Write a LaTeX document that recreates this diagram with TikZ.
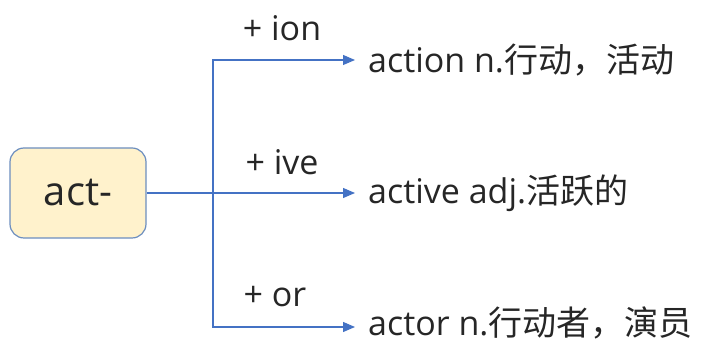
\documentclass[tikz,border=0pt]{standalone}
\usepackage{fontspec}
\setmainfont{Open Sans}
\newfontfamily\cjk{Noto Sans CJK SC}
\usepackage{xcolor}
\usetikzlibrary{arrows.meta}
\definecolor{linkblue}{HTML}{4472C4}
\definecolor{boxfill}{HTML}{FFF2CC}
\definecolor{boxline}{HTML}{6C8EBF}
\definecolor{txt}{HTML}{262626}
\tikzset{
  rootbox/.style={draw=boxline, line width=1.2pt, fill=boxfill, rounded corners=14pt,
    minimum width=136pt, minimum height=90pt, text=txt, font=\fontsize{40}{48}\selectfont},
  leaf/.style={anchor=west, inner xsep=13pt, inner ysep=2pt, text=txt, font=\fontsize{34}{41}\selectfont},
  suffix/.style={text=txt, font=\fontsize{34}{40}\selectfont},
  link/.style={draw=linkblue, line width=1.1pt},
  tip/.style={-{Triangle[length=12pt,width=10pt]}}
}
\begin{document}
\begin{tikzpicture}[x=1pt,y=1pt]
        \useasboundingbox (0,0) rectangle (710,345);
        \node[rootbox] (root) at (78,152) {act-};
        \coordinate (fork) at (213,152);
        %
        \node[leaf] (ion) at (355,285) {action n.{\cjk 行动，活动}};
        \node[leaf] (ive) at (355,152) {active adj.{\cjk 活跃的}};
        \node[leaf, text depth=12pt] (or) at (355,18) {actor n.{\cjk 行动者，演员}};
        %
        \node[suffix] (plusion) at (282,317) {+ ion};
        \node[suffix] (plusive) at (282,183) {+ ive};
        \node[suffix] (plusor) at (275,48) {+ or};
        %
        \draw[link,tip] (root) -- (ive);
        \draw[link,tip] (fork) |- (ion);
        \draw[link,tip] (fork) |- (or);
    \end{tikzpicture}
\end{document}
